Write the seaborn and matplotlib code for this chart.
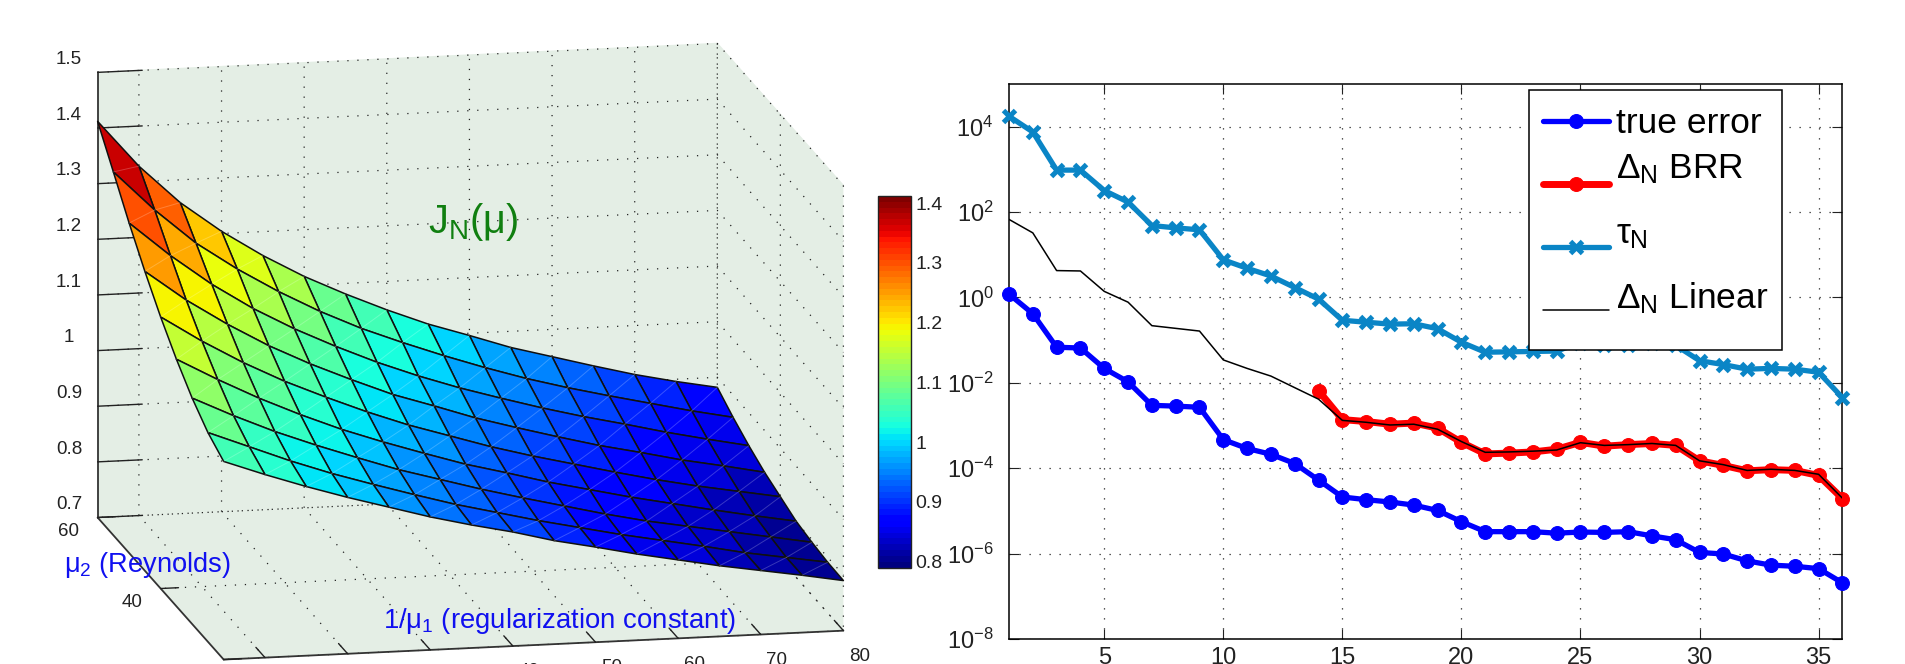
import matplotlib
matplotlib.use("Agg")
import matplotlib.pyplot as plt
import numpy as np
import seaborn as sns
from mpl_toolkits.mplot3d import proj3d

# left panel: J_N(mu) surface, rows go from mu2 = 20 up to mu2 = 60
mu1_inv = [5, 10, 15, 20, 25, 30, 35, 40, 45, 50, 55, 60, 65, 70, 75, 80]
mu2 = [20, 25, 30, 35, 40, 45, 50, 55, 60]
J_20 = [1.056, 1.029, 1.004, .981, .960, .939, .921, .905, .886, .871, .855, .841, .827, .815, .803, .790]
J_25 = [1.076, 1.047, 1.018, .992, .969, .947, .926, .908, .890, .874, .858, .844, .830, .815, .803, .791]
J_30 = [1.106, 1.071, 1.039, 1.011, .985, .960, .939, .918, .899, .881, .863, .847, .834, .821, .808, .795]
J_35 = [1.144, 1.104, 1.067, 1.034, 1.004, .978, .954, .931, .912, .892, .875, .858, .843, .828, .814, .801]
J_40 = [1.188, 1.141, 1.099, 1.062, 1.030, 1.000, .973, .950, .927, .907, .889, .871, .854, .839, .826, .813]
J_45 = [1.238, 1.183, 1.136, 1.094, 1.058, 1.026, .996, .972, .947, .926, .906, .887, .871, .854, .840, .825]
J_50 = [1.293, 1.231, 1.176, 1.129, 1.089, 1.054, 1.022, .994, .969, .947, .926, .907, .890, .872, .856, .841]
J_55 = [1.353, 1.281, 1.218, 1.168, 1.124, 1.085, 1.051, 1.022, .995, .970, .947, .927, .909, .892, .875, .860]
J_60 = [1.412, 1.328, 1.259, 1.204, 1.157, 1.116, 1.081, 1.049, 1.020, .996, .971, .951, .931, .912, .896, .882]
z_ticks = [0.7, 0.8, 0.9, 1.0, 1.1, 1.2, 1.3, 1.4, 1.5]
z_labels = ["0.7", "0.8", "0.9", "1", "1.1", "1.2", "1.3", "1.4", "1.5"]
cbar_ticks = [0.8, 0.9, 1.0, 1.1, 1.2, 1.3, 1.4]
cbar_labels = ["0.8", "0.9", "1", "1.1", "1.2", "1.3", "1.4"]

# right panel: log10 of the error curves
N = list(range(1, 37))
true_error_log = [0.078, -0.382, -1.167, -1.185, -1.663, -1.978, -2.528, -2.546, -2.573, -3.331, -3.538, -3.674,
                  -3.890, -4.278, -4.674, -4.737, -4.792, -4.864, -4.990, -5.252, -5.486, -5.486, -5.486, -5.522,
                  -5.495, -5.504, -5.486, -5.585, -5.675, -5.973, -6.009, -6.171, -6.270, -6.297, -6.352, -6.685]
tau_log = [4.243, 3.874, 2.981, 2.981, 2.503, 2.233, 1.683, 1.628, 1.583, 0.880, 0.682, 0.501,
           0.231, -0.040, -0.536, -0.581, -0.626, -0.617, -0.734, -1.050, -1.284, -1.275, -1.266, -1.257,
           -1.059, -1.122, -1.104, -1.077, -1.122, -1.482, -1.573, -1.681, -1.663, -1.681, -1.753, -2.348]
linear_log = [1.827, 1.511, 0.628, 0.619, 0.141, -0.112, -0.662, -0.725, -0.788, -1.464, -1.663, -1.843,
              -2.114, -2.384, -2.880, -2.925, -2.988, -2.970, -3.087, -3.376, -3.628, -3.619, -3.601, -3.574,
              -3.403, -3.466, -3.448, -3.421, -3.466, -3.827, -3.917, -4.052, -4.025, -4.052, -4.143, -4.702]
N_brr = list(range(14, 37))
brr_log = [-2.186, -2.862, -2.907, -2.970, -2.943, -3.061, -3.394, -3.665, -3.647, -3.619, -3.556,
           -3.394, -3.484, -3.448, -3.421, -3.466, -3.827, -3.935, -4.061, -4.034, -4.052, -4.170, -4.711]

W, H = 1906, 664
PANE = "#e4eee5"
TAU_COLOR = "#0a85c6"
DOTS = (0, (1, 7))

sns.set_style("white")
plt.rcParams["font.family"] = ["Liberation Sans", "DejaVu Sans"]
plt.rcParams["mathtext.fontset"] = "custom"
plt.rcParams["mathtext.rm"] = "Liberation Sans"
plt.rcParams["mathtext.it"] = "Liberation Sans"
plt.rcParams["mathtext.bf"] = "Liberation Sans"
plt.rcParams["text.color"] = "black"
plt.rcParams["xtick.color"] = "#222222"
plt.rcParams["ytick.color"] = "#222222"


def px_rect(left, top, right, bottom):
    return [left / W, 1 - bottom / H, (right - left) / W, (bottom - top) / H]


def fit_box(ax, data_a, data_b, px_a, px_b):
    # place the square 3D axes so two box corners land on given pixels
    for _ in range(3):
        ax.apply_aspect()
        M = ax.get_proj()
        pts = []
        for p in (data_a, data_b):
            x2, y2, _z = proj3d.proj_transform(p[0], p[1], p[2], M)
            pts.append(ax.transData.transform((x2, y2)))
        pos = ax.get_position()
        size = pos.width * W
        centre = np.array([(pos.x0 + pos.width / 2) * W, (pos.y0 + pos.height / 2) * H])
        ta = np.array([px_a[0], H - px_a[1]])
        tb = np.array([px_b[0], H - px_b[1]])
        ratio = np.linalg.norm(tb - ta) / np.linalg.norm(pts[1] - pts[0])
        centre = ta - (pts[0] - centre) * ratio
        size = size * ratio
        ax.set_position([(centre[0] - size / 2) / W, (centre[1] - size / 2) / H, size / W, size / H])


fig = plt.figure(figsize=(W / 100, H / 100), dpi=100)

# ---- surface ----
Z = np.array([J_20, J_25, J_30, J_35, J_40, J_45, J_50, J_55, J_60])
X, Y = np.meshgrid(mu1_inv, mu2)
cmap = matplotlib.colormaps["jet"].resampled(64)
norm = plt.Normalize(Z.min(), Z.max())
face_norm = plt.Normalize(Z.min(), 1.40)

ax3 = fig.add_axes([0.0, -0.5, 0.5, 0.5 * W / H], projection="3d", proj_type="ortho", computed_zorder=False)
ax3.patch.set_alpha(0)
ax3.view_init(elev=13.25, azim=-101.5)
ax3.set_box_aspect((632, 632, 457))
ax3.set_xlim(5, 80, view_margin=0)
ax3.set_ylim(20, 60, view_margin=0)
ax3.set_zlim(0.7, 1.5, view_margin=0)

ax3.plot_surface(X, Y, Z, rstride=1, cstride=1, facecolors=cmap(face_norm(Z)), shade=False,
                 edgecolor="#101010", linewidth=1.1, antialiased=True, zorder=2)

# the faint light diagonal across every quad
for j in range(len(mu2) - 1):
    for i in range(len(mu1_inv) - 1):
        ax3.plot([X[j, i], X[j + 1, i + 1]], [Y[j, i], Y[j + 1, i + 1]], [Z[j, i], Z[j + 1, i + 1]],
                 color="white", alpha=0.22, lw=0.7, zorder=3)

for axis, tick_out in ((ax3.xaxis, 0.9), (ax3.yaxis, 0.36), (ax3.zaxis, 0.9)):
    axis.set_pane_color(PANE)
    axis.pane.set_edgecolor(PANE)
    axis._axinfo["grid"].update(color="#222222", linestyle=DOTS, linewidth=0.9)
    axis._axinfo["tick"].update(inward_factor=0.0, outward_factor=tick_out, linewidth={True: 1.0, False: 0.5})
    axis.line.set_color("#333333")
    axis.line.set_linewidth(1.3)

ax3.set_xticks([10, 20, 30, 40, 50, 60, 70, 80])
ax3.set_yticks([20, 40, 60])
ax3.set_zticks(z_ticks)
ax3.set_zticklabels(z_labels)
ax3.tick_params(axis="both", labelsize=13.5)
ax3.tick_params(axis="x", pad=8)
ax3.tick_params(axis="y", pad=9)
ax3.tick_params(axis="z", labelsize=13.5, pad=6)
plt.setp(ax3.zaxis.get_majorticklabels(), va="bottom", ha="center")
plt.setp(ax3.yaxis.get_majorticklabels(), va="bottom", ha="center")
plt.setp(ax3.xaxis.get_majorticklabels(), va="center", ha="left")
fit_box(ax3, (5, 60, 0.7), (80, 20, 0.7), (97.6, 517.5), (843.5, 630))

fig.text(64 / W, 1 - 565 / H, r"$\mu_{2}$ (Reynolds)", color="#1010f0", fontsize=19.6, va="center")
fig.text(383 / W, 1 - 621 / H, r"1/$\mu_{1}$ (regularization constant)", color="#1010f0", fontsize=19.8, va="center")
fig.text(428 / W, 1 - 222 / H, r"J$_{\mathrm{N}}$($\mu$)", color="#107f10", fontsize=28.5, va="center")

# ---- colorbar ----
cax = fig.add_axes(px_rect(878, 196, 911.4, 567.5))
cb = fig.colorbar(plt.cm.ScalarMappable(norm=norm, cmap=cmap), cax=cax)
cb.set_ticks(cbar_ticks, labels=cbar_labels)
cax.tick_params(direction="in", left=True, right=True, length=3, labelsize=14, pad=3)
cb.outline.set_linewidth(1)
cb.outline.set_edgecolor("#222222")

# ---- error curves ----
ax = fig.add_axes(px_rect(1009, 83.9, 1842.4, 639))
ax.set_yscale("log")

sns.lineplot(x=N, y=10.0 ** np.array(true_error_log), ax=ax, color="#0000ff", lw=3.8, marker="o", ms=10,
             mec="#0000ff", label="true error", clip_on=False, zorder=4)
sns.lineplot(x=N_brr, y=10.0 ** np.array(brr_log), ax=ax, color="#ff0000", lw=5, marker="o", ms=10,
             mec="#ff0000", label=r"$\Delta_{\mathrm{N}}$ BRR", clip_on=False, zorder=3)
sns.lineplot(x=N, y=10.0 ** np.array(tau_log), ax=ax, color=TAU_COLOR, lw=3.8, marker="x", ms=8, mew=3.6,
             mec=TAU_COLOR, label=r"$\tau_{\mathrm{N}}$", clip_on=False, zorder=4)
sns.lineplot(x=N, y=10.0 ** np.array(linear_log), ax=ax, color="black", lw=1.1,
             label=r"$\Delta_{\mathrm{N}}$ Linear", zorder=5)

ax.set_xlim(1, 36)
ax.set_ylim(1e-8, 1e5)
ax.set_xticks([5, 10, 15, 20, 25, 30, 35])
ax.set_yticks([1e-8, 1e-6, 1e-4, 1e-2, 1e0, 1e2, 1e4])
ax.minorticks_off()
ax.grid(True, linestyle=DOTS, color="#222222", linewidth=0.9)
ax.tick_params(direction="in", top=True, right=True, bottom=True, left=True, length=7, width=0.8, labelsize=17)
ax.tick_params(axis="x", pad=6)
ax.tick_params(axis="y", pad=11)
for s in ax.spines.values():
    s.set_color("black")
    s.set_linewidth(1.1)

leg = ax.legend(loc="upper left", bbox_to_anchor=(1529.4 / W, 1 - 90.4 / H), bbox_transform=fig.transFigure,
                fontsize=25.5, frameon=True, fancybox=False, framealpha=1, edgecolor="black",
                borderaxespad=0, borderpad=0.38, handlelength=1.87, handletextpad=0.2, labelspacing=0.56,
                handleheight=1.5)
leg.get_frame().set_linewidth(1.1)
leg.set_zorder(10)
# greek rows sit higher than their line sample
for text, lift in zip(leg.get_texts(), [4, 22, 20, 18]):
    text.set_y(lift)

fig.savefig("out.png", dpi=100)
